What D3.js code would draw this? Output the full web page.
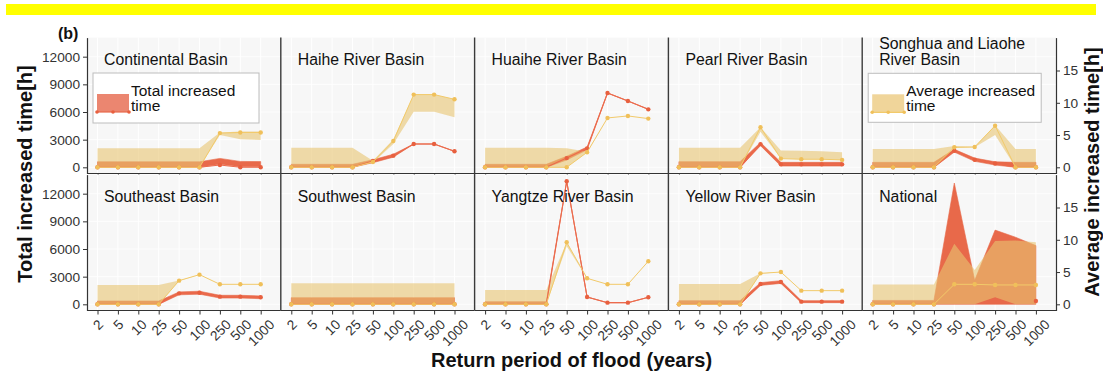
<!DOCTYPE html>
<html>
<head>
<meta charset="utf-8">
<script src="https://cdn.jsdelivr.net/npm/d3@7"></script>
<style>
  body { margin: 0; background: #fff; }
  svg { display: block; font-family: "Liberation Sans", Arial, Helvetica, sans-serif; }
</style>
</head>
<body>
<svg id="chart" width="1103" height="378"></svg>
<script>
// Return periods (years) on the x axis
const periods = ["2", "5", "10", "25", "50", "100", "250", "500", "1000"];

// Basins, in facet order (row by row)
const basins = [
  "Continental Basin", "Haihe River Basin", "Huaihe River Basin", "Pearl River Basin",
  "Songhua and Liaohe\nRiver Basin",
  "Southeast Basin", "Southwest Basin", "Yangtze River Basin", "Yellow River Basin", "National"
];

// Total increased time [h] (left axis): line values and band bounds
const totalValue = [
  [0, 0, 0, 0, 0, 0, 250, 0, 0],
  [0, 0, 0, 0, 690, 1266, 2530, 2530, 1736],
  [0, 0, 0, 0, 1000, 2060, 8060, 7200, 6290],
  [0, 0, 0, 0, 2520, 320, 320, 320, 320],
  [0, 0, 0, 0, 1800, 820, 420, 0, 0],
  [0, 0, 0, 0, 1190, 1260, 830, 830, 760],
  [0, 0, 0, 0, 0, 0, 0, 0, 0],
  [0, 0, 0, 0, 13345, 795, 180, 180, 760],
  [0, 0, 0, 0, 2200, 2420, 290, 290, 290],
  [0, 0, 0, 0, null, null, null, null, 360]
];
const totalLow = [
  [0, 0, 0, 0, 0, 0, 330, 60, 60],
  [0, 0, 0, 0, 500, 1100, 2530, 2530, 1736],
  [0, 0, 0, 0, 800, 1900, 8060, 7200, 6290],
  [0, 0, 0, 0, 2350, 140, 140, 140, 140],
  [0, 0, 0, 0, 1650, 650, 250, 0, 0],
  [0, 0, 0, 0, 1030, 1100, 680, 680, 610],
  [0, 0, 0, 0, 0, 0, 0, 0, 0],
  [0, 0, 0, 0, 13345, 795, 180, 180, 760],
  [0, 0, 0, 0, 2050, 2270, 180, 180, 180],
  [0, 0, 0, 0, 0, 0, 0, 0, 0]
];
const totalHigh = [
  [600, 600, 600, 600, 600, 600, 970, 640, 620],
  [325, 325, 325, 325, 820, 1420, 2530, 2530, 1736],
  [325, 325, 325, 325, 1200, 2200, 8060, 7200, 6290],
  [615, 615, 615, 615, 2700, 540, 540, 540, 540],
  [540, 540, 540, 540, 1950, 1000, 600, 540, 540],
  [360, 360, 360, 360, 1350, 1420, 980, 980, 910],
  [720, 720, 720, 720, 720, 720, 720, 720, 720],
  [290, 290, 290, 290, 13345, 795, 180, 180, 760],
  [400, 400, 400, 400, 2350, 2570, 400, 400, 400],
  [420, 420, 420, 420, 13160, 2600, 8050, 7280, 6370]
];

// Average increased time [h] (right axis): line values and band bounds
const avgValue = [
  [0, 0, 0, 0, 0, 0, 5.3, 5.4, 5.4],
  [0, 0, 0, 0, 0.83, 4.08, 11.27, 11.27, 10.54],
  [0, 0, 0, 0, 0, 2.33, 7.65, 7.96, 7.55],
  [0, 0, 0, 0, 6.2, 1.35, 1.25, 1.25, 1.15],
  [0, 0, 0, 0, 3.1, 3.15, 6.45, 0, 0],
  [0, 0, 0, 0, 3.67, 4.6, 3.1, 3.1, 3.1],
  [0, 0, 0, 0, 0, 0, 0, 0, 0],
  [0, 0, 0, 0, 9.61, 4.03, 3.1, 3.1, 6.67],
  [0, 0, 0, 0, 4.8, 5.0, 2.12, 2.12, 2.12],
  [0, 0, 0, 0, 3.1, 3.1, 3.0, 3.0, 3.0]
];
const avgLow = [
  [0, 0, 0, 0, 0, 0, 5.0, 4.35, 4.25],
  [0, 0, 0, 0, 0.7, 3.6, 8.6, 8.6, 7.75],
  [0, 0, 0, 0, 0, 2.3, 7.65, 7.96, 7.55],
  [0, 0, 0, 0, 5.5, 1.35, 1.25, 1.25, 1.15],
  [0, 0, 0, 0, 3.0, 3.1, 5.0, 0, 0],
  [0, 0, 0, 0, 3.6, 4.6, 3.1, 3.1, 3.1],
  [0, 0, 0, 0, 0, 0, 0, 0, 0],
  [0, 0, 0, 0, 9.0, 4.03, 3.1, 3.1, 6.67],
  [0, 0, 0, 0, 4.7, 5.0, 2.12, 2.12, 2.12],
  [0, 0, 0, 0, 0, 0, 1.1, 0, 0]
];
const avgHigh = [
  [2.95, 2.95, 2.95, 2.95, 2.95, 2.95, 5.4, 5.55, 5.55],
  [3.05, 3.05, 3.05, 3.05, 1.0, 4.3, 11.3, 11.3, 10.55],
  [3.05, 3.05, 3.05, 3.05, 2.95, 2.4, 7.65, 7.96, 7.55],
  [3.05, 3.05, 3.05, 3.05, 6.2, 2.6, 2.55, 2.5, 2.35],
  [2.85, 2.85, 2.85, 2.85, 3.3, 3.2, 6.5, 2.85, 2.85],
  [3.0, 3.0, 3.0, 3.0, 3.7, 4.6, 3.1, 3.1, 3.1],
  [3.26, 3.26, 3.26, 3.26, 3.26, 3.26, 3.26, 3.26, 3.26],
  [2.2, 2.2, 2.2, 2.2, 9.61, 4.03, 3.1, 3.1, 6.67],
  [3.15, 3.15, 3.15, 3.15, 4.8, 5.0, 2.12, 2.12, 2.12],
  [3.06, 3.06, 3.06, 3.06, 9.4, 5.3, 9.8, 9.9, 9.6]
];

const totalTicks = [0, 3000, 6000, 9000, 12000];
const avgTicks = [0, 5, 10, 15];
const secRatio = 700;          // right axis = left axis / 700
const totalDomain = [-670, 14070];

// ---- layout ----
const svg = d3.select("#chart");
const left = 87, panelW = 193.8, nCols = 5;
const rowTops = [37.6, 174.6], rowH = 135.9;
const right = left + panelW * nCols;

const RED = "#E8694A";
const TAN = "rgba(232,196,113,0.6)";
const YEL_LINE = "#F2CA6A";
const YEL_PT = "#F0C05A";
const TICK_FONT = 13.7;

// yellow banner
svg.append("rect").attr("x", 6).attr("y", 4).attr("width", 1090).attr("height", 11).attr("fill", "#FFFF00");

svg.append("text").attr("x", 58).attr("y", 38.5).attr("font-size", 16).attr("font-weight", "bold")
  .attr("fill", "#111").text("(b)");

function yScales(row) {
  const r = [rowTops[row] + rowH, rowTops[row]];
  return {
    yt: d3.scaleLinear().domain(totalDomain).range(r),
    ya: d3.scaleLinear().domain(totalDomain.map(v => v / secRatio)).range(r)
  };
}

basins.forEach((name, i) => {
  const row = Math.floor(i / nCols), col = i % nCols;
  const x0 = left + col * panelW;
  const { yt, ya } = yScales(row);
  const x = d3.scalePoint().domain(periods).range([x0 + 10.5, x0 + 173.7]);
  const g = svg.append("g");

  g.append("rect").attr("x", x0).attr("y", rowTops[row]).attr("width", panelW).attr("height", rowH)
    .attr("fill", "#F7F7F7");
  // grid
  g.selectAll(".gx").data(periods).join("line")
    .attr("x1", d => x(d)).attr("x2", d => x(d))
    .attr("y1", rowTops[row]).attr("y2", rowTops[row] + rowH)
    .attr("stroke", "#fff").attr("stroke-width", 1);
  g.selectAll(".gy").data(totalTicks).join("line")
    .attr("x1", x0).attr("x2", x0 + panelW)
    .attr("y1", d => yt(d)).attr("y2", d => yt(d))
    .attr("stroke", "#fff").attr("stroke-width", 0.8);

  const idx = d3.range(periods.length);

  // total band
  g.append("path").datum(idx)
    .attr("d", d3.area().x(k => x(periods[k])).y0(k => yt(totalLow[i][k])).y1(k => yt(totalHigh[i][k])))
    .attr("fill", RED).attr("stroke", RED).attr("stroke-width", 0.6);
  // average band
  g.append("path").datum(idx)
    .attr("d", d3.area().x(k => x(periods[k])).y0(k => ya(avgLow[i][k])).y1(k => ya(avgHigh[i][k])))
    .attr("fill", TAN);

  // total line and points
  const tIdx = idx.filter(k => totalValue[i][k] !== null);
  g.append("path").datum(idx)
    .attr("d", d3.line().defined(k => totalValue[i][k] !== null)
      .x(k => x(periods[k])).y(k => yt(totalValue[i][k])))
    .attr("fill", "none").attr("stroke", "#EC6A4C").attr("stroke-width", 1.1);
  g.selectAll(".tp").data(tIdx).join("circle")
    .attr("cx", k => x(periods[k])).attr("cy", k => yt(totalValue[i][k]))
    .attr("r", 2.2).attr("fill", "#E8603F");

  // average line and points
  g.append("path").datum(idx)
    .attr("d", d3.line().x(k => x(periods[k])).y(k => ya(avgValue[i][k])))
    .attr("fill", "none").attr("stroke", YEL_LINE).attr("stroke-width", 1);
  g.selectAll(".ap").data(idx).join("circle")
    .attr("cx", k => x(periods[k])).attr("cy", k => ya(avgValue[i][k]))
    .attr("r", 2.2).attr("fill", YEL_PT);

  // facet title
  const lines = name.split("\n");
  lines.forEach((ln, j) => {
    g.append("text")
      .attr("x", x0 + 17)
      .attr("y", rowTops[row] + 27.5 - (lines.length - 1 - j) * 16)
      .attr("font-size", 15.8).attr("fill", "#111").text(ln);
  });

  // x axis
  const axisY = rowTops[row] + rowH;
  const ax = g.append("g").attr("transform", `translate(0,${axisY})`)
    .call(d3.axisBottom(x).tickSize(4).tickSizeOuter(0));
  ax.select(".domain").remove();
  ax.selectAll(".tick line").attr("stroke", "#333");
  if (row === 0) {
    ax.selectAll(".tick text").remove();
  } else {
    // 45° labels, box centred under the tick with its top just below the axis
    ax.selectAll(".tick text")
      .attr("font-size", TICK_FONT).attr("fill", "#333")
      .attr("text-anchor", "middle").attr("y", 0).attr("dy", "0.35em")
      .each(function () {
        const len = this.getComputedTextLength();
        const half = (len + TICK_FONT * 0.72) * 0.3536;
        d3.select(this).attr("transform", `translate(0,${8 + half}) rotate(-45)`);
      });
  }
  g.append("line").attr("x1", x0).attr("x2", x0 + panelW).attr("y1", axisY).attr("y2", axisY)
    .attr("stroke", "#333").attr("stroke-width", 1.2);
});

// panel dividers
for (let c = 1; c < nCols; c++) {
  svg.append("line").attr("x1", left + c * panelW).attr("x2", left + c * panelW)
    .attr("y1", rowTops[0]).attr("y2", rowTops[1] + rowH)
    .attr("stroke", "#3a3a3a").attr("stroke-width", 1.4);
}

// left and right axes for each row
[0, 1].forEach(row => {
  const { yt, ya } = yScales(row);
  const la = svg.append("g").attr("transform", `translate(${left},0)`)
    .call(d3.axisLeft(yt).tickValues(totalTicks).tickFormat(d3.format("d")).tickSize(4).tickSizeOuter(0));
  la.select(".domain").attr("stroke", "#333").attr("stroke-width", 1.2);
  la.selectAll(".tick line").attr("stroke", "#333");
  la.selectAll(".tick text").attr("font-size", TICK_FONT).attr("fill", "#333");

  const ra = svg.append("g").attr("transform", `translate(${right},0)`)
    .call(d3.axisRight(ya).tickValues(avgTicks).tickFormat(d3.format("d")).tickSize(4).tickSizeOuter(0));
  ra.select(".domain").attr("stroke", "#333").attr("stroke-width", 1.2);
  ra.selectAll(".tick line").attr("stroke", "#333");
  ra.selectAll(".tick text").attr("font-size", TICK_FONT).attr("fill", "#333");
});

// legends
function legend(px, py, w, h, fill, lineCol, ptCol, label1, label2) {
  const lg = svg.append("g");
  lg.append("rect").attr("x", px).attr("y", py).attr("width", w).attr("height", h)
    .attr("fill", "#fff").attr("stroke", "#bdbdbd").attr("stroke-width", 1);
  lg.append("rect").attr("x", px + 4).attr("y", py + 21).attr("width", 32).attr("height", 18)
    .attr("fill", fill);
  lg.append("line").attr("x1", px + 4).attr("x2", px + 36).attr("y1", py + 39).attr("y2", py + 39)
    .attr("stroke", lineCol).attr("stroke-width", 1.2);
  [px + 4, px + 20, px + 36].forEach(cx => lg.append("circle").attr("cx", cx).attr("cy", py + 39)
    .attr("r", 1.8).attr("fill", ptCol));
  lg.append("text").attr("x", px + 38).attr("y", py + 22.5).attr("font-size", 15.5).attr("fill", "#111").text(label1);
  lg.append("text").attr("x", px + 38).attr("y", py + 38).attr("font-size", 15.5).attr("fill", "#111").text(label2);
}
legend(left + 6, 73, 166, 50, "#EB8670", RED, "#E8603F", "Total increased", "time");
legend(left + 4 * panelW + 6, 73.3, 173, 49, "#F0D59A", YEL_LINE, YEL_PT, "Average increased", "time");

// axis titles
svg.append("text").attr("transform", "translate(32,174) rotate(-90)")
  .attr("text-anchor", "middle").attr("font-size", 20).attr("font-weight", "bold").attr("fill", "#111")
  .text("Total increased time[h]");
svg.append("text").attr("transform", "translate(1099,172) rotate(-90)")
  .attr("text-anchor", "middle").attr("font-size", 20).attr("font-weight", "bold").attr("fill", "#111")
  .text("Average increased time[h]");
svg.append("text").attr("x", (left + right) / 2).attr("y", 367)
  .attr("text-anchor", "middle").attr("font-size", 20).attr("font-weight", "bold").attr("fill", "#111")
  .text("Return period of flood (years)");
</script>
</body>
</html>
